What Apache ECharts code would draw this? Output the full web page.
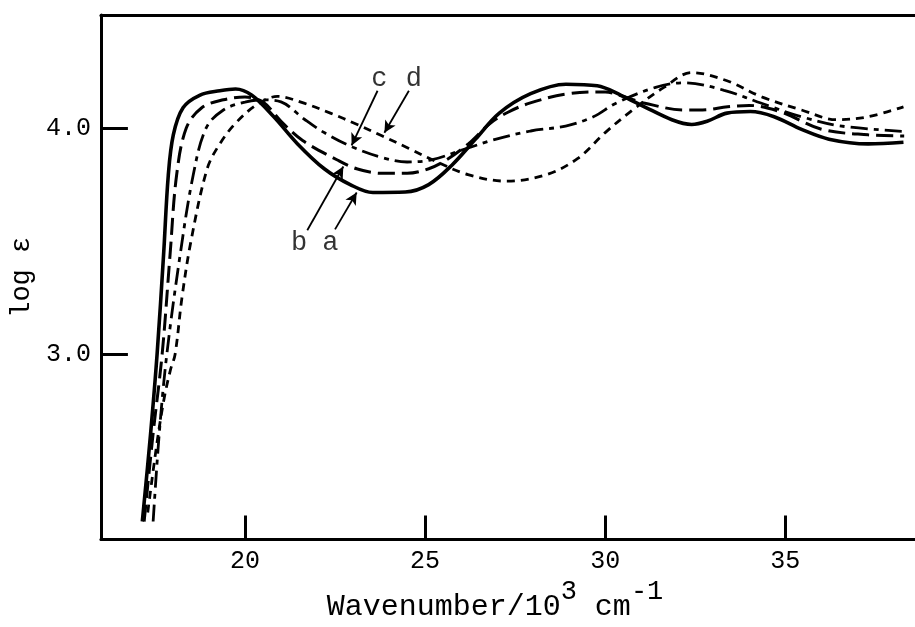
<!DOCTYPE html>
<html><head><meta charset="utf-8">
<script src="https://cdn.jsdelivr.net/npm/echarts@6/dist/echarts.min.js"></script>
<style>html,body{margin:0;padding:0;background:#fff}#c{width:915px;height:627px}</style>
</head><body><div id="c"></div>
<script>
// Tick values
const xTicks = [20, 25, 30, 35];
const yTicks = [3.0, 4.0];
// Curve a (solid)
const curveA = [[17.15,2.26],[17.38,2.65],[17.56,3.0],[17.74,3.44],[17.87,3.79],[18.01,3.97],[18.28,4.09],[18.74,4.145],[19.3,4.165],[19.74,4.173],[20.19,4.145],[20.8,4.05],[21.46,3.93],[22.2,3.82],[22.92,3.75],[23.55,3.715],[24.45,3.717],[25.1,3.75],[25.75,3.837],[26.4,3.951],[27.06,4.066],[27.93,4.152],[28.91,4.194],[29.78,4.187],[30.44,4.145],[31.09,4.094],[31.85,4.037],[32.4,4.016],[32.83,4.03],[33.38,4.066],[34.03,4.073],[34.69,4.05],[35.45,3.994],[36.21,3.951],[37.3,3.93],[38.28,3.937]];
// Curve b (long dash)
const curveB = [[17.2,2.26],[17.45,2.65],[17.7,3.0],[17.92,3.44],[18.1,3.79],[18.37,4.0],[18.8,4.09],[19.4,4.125],[20.0,4.137],[20.5,4.115],[21.0,4.03],[21.6,3.945],[22.55,3.86],[23.1,3.82],[23.8,3.80],[24.5,3.80],[25.1,3.82],[25.6,3.86],[26.2,3.93],[26.8,4.02],[27.3,4.07],[27.9,4.11],[28.9,4.15],[30.0,4.16],[30.5,4.14],[31.1,4.11],[32.2,4.08],[32.7,4.08],[33.4,4.094],[34.0,4.10],[34.9,4.07],[36.0,3.995],[37.3,3.97],[38.3,3.965]];
// Curve c (dash-dot)
const curveC = [[17.45,2.26],[17.62,2.65],[17.83,3.0],[18.2,3.44],[18.56,3.79],[18.92,4.0],[19.4,4.08],[20.0,4.115],[20.5,4.125],[21.0,4.116],[21.64,4.04],[22.2,3.98],[23.0,3.915],[23.8,3.87],[24.5,3.85],[25.2,3.86],[25.97,3.90],[26.95,3.95],[27.93,3.987],[28.9,4.009],[29.67,4.05],[30.3,4.11],[31.4,4.18],[32.2,4.2],[33.3,4.167],[34.5,4.10],[35.45,4.05],[36.5,4.01],[38.3,3.985]];
// Curve d (short dash)
const curveD = [[17.3,2.3],[17.55,2.6],[17.75,2.8],[17.93,2.93],[18.06,3.0],[18.25,3.25],[18.5,3.5],[18.95,3.82],[19.3,3.93],[19.73,4.02],[20.3,4.1],[20.9,4.14],[21.64,4.11],[22.37,4.066],[23.1,4.017],[23.8,3.966],[24.55,3.91],[25.2,3.86],[26.19,3.794],[27.28,3.765],[28.37,3.794],[29.24,3.866],[30.0,3.98],[30.76,4.08],[31.63,4.18],[32.4,4.245],[33.38,4.209],[34.36,4.137],[35.45,4.08],[36.43,4.037],[37.3,4.05],[38.28,4.094]];
// Annotation labels and arrows [x1, y1, x2, y2]
const labelText = ['c', 'd', 'b', 'a'];
const labelPos = [[23.73,4.216],[24.69,4.216],[21.5,3.494],[22.37,3.494]];
const arrows = [[23.68,4.165,22.96,3.923],[24.55,4.165,23.87,3.979],[21.73,3.548,22.73,3.83],[22.5,3.552,23.1,3.715]];

const FONT = '"Liberation Mono", "DejaVu Sans Mono", monospace';
const chart = echarts.init(document.getElementById('c'), null, {renderer: 'canvas'});
function curve(name, data, dash, width) {
  return {
    name, type: 'line', data, showSymbol: false, smooth: 0.35,
    lineStyle: {color: '#000', width: width, type: dash, cap: 'butt'},
    z: 3, silent: true
  };
}
const option = {
  backgroundColor: '#fff',
  animation: false,
  grid: {left: 86, top: 15, right: 0, bottom: 70, containLabel: false},
  xAxis: [{
    type: 'value', min: 16, max: 38.6, position: 'bottom',
    name: '{a|Wavenumber/10}{s|3}{a| cm}{s|-1}', nameLocation: 'middle', nameGap: 30,
    nameTextStyle: {padding: [0, 26, 0, 0], rich: {
      a: {fontFamily: FONT, fontSize: 30, color: '#000'},
      s: {fontFamily: FONT, fontSize: 27, color: '#000', padding: [0, 0, 30, 0]}
    }},
    axisLine: {show: true, lineStyle: {color: '#000', width: 3}},
    axisTick: {show: true, inside: true, length: 24, customValues: xTicks, lineStyle: {color: '#000', width: 3}},
    axisLabel: {show: true, customValues: xTicks, fontFamily: FONT, fontSize: 25, color: '#000', margin: 9},
    splitLine: {show: false}
  }, {
    type: 'value', min: 16, max: 38.6, position: 'top',
    axisLine: {show: true, onZero: false, lineStyle: {color: '#000', width: 3}},
    axisTick: {show: false}, axisLabel: {show: false}, splitLine: {show: false}
  }],
  yAxis: {
    type: 'value', min: 2.18, max: 4.5,
    name: 'log ε', nameLocation: 'middle', nameGap: 58, nameRotate: 90,
    nameTextStyle: {fontFamily: FONT, fontSize: 27, color: '#000'},
    axisLine: {show: true, onZero: false, lineStyle: {color: '#000', width: 3}},
    axisTick: {show: true, inside: true, length: 27, customValues: yTicks, lineStyle: {color: '#000', width: 3}},
    axisLabel: {show: true, customValues: yTicks, fontFamily: FONT, fontSize: 25, color: '#000', margin: 10,
      formatter: v => v.toFixed(1)},
    splitLine: {show: false}
  },
  series: [
    curve('a', curveA, 'solid', 3.6),
    curve('b', curveB, [17, 7], 3),
    curve('c', curveC, [17, 6, 5, 6], 2.8),
    curve('d', curveD, [8, 6], 2.8),
    {
      type: 'scatter', symbolSize: 0, silent: true,
      data: labelPos.map((p, i) => ({value: p, name: labelText[i]})),
      label: {show: true, position: 'inside', formatter: p => p.name, fontFamily: FONT, fontSize: 27, color: '#000'},
      markLine: {
        silent: true, symbol: ['none', 'arrow'], symbolSize: [9, 12],
        lineStyle: {color: '#000', width: 1.8, type: 'solid'},
        label: {show: false},
        data: arrows.map(a => [{coord: [a[0], a[1]]}, {coord: [a[2], a[3]]}])
      }
    }
  ]
};
chart.setOption(option);
</script>
</body></html>
